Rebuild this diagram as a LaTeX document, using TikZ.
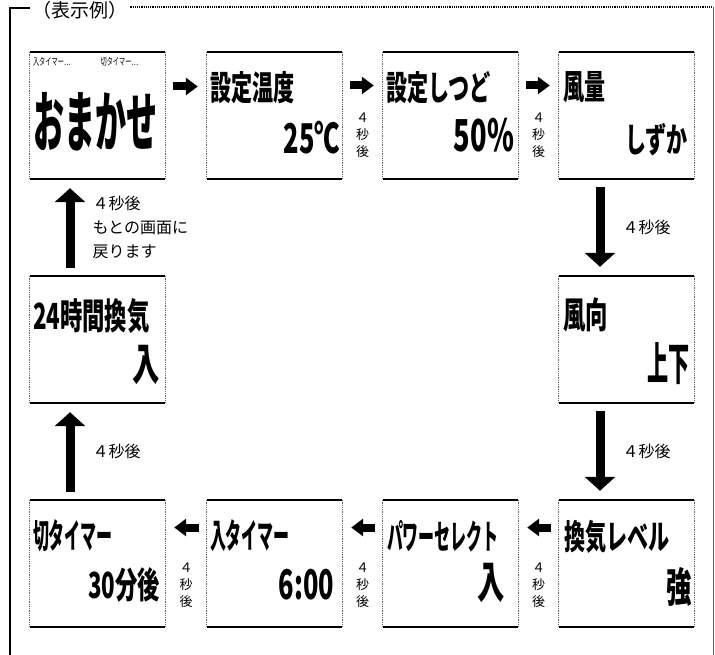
\documentclass[tikz,border=0pt]{standalone}
\usepackage{fontspec}
\usetikzlibrary{arrows.meta,positioning}
\newfontfamily\jp{Noto Sans CJK JP}
\newfontfamily\jpn[FakeStretch=0.62]{Noto Sans CJK JP}
\newfontfamily\jpx[FakeStretch=0.47]{Noto Sans CJK JP}
\newcommand\fsz[1]{\fontsize{#1}{#1}\selectfont}
\begin{document}
\begin{tikzpicture}[
    x=1pt,y=-1pt,
    screen/.style={minimum width=135pt,minimum height=127pt,inner sep=0pt},
    scrtitle/.style={anchor=north west,inner sep=0pt,font=\jpn\bfseries\fsz{34}},
    scrval/.style={anchor=south east,inner sep=0pt,font=\jpn\bfseries\fsz{41}},
    note/.style={inner sep=0pt,font=\jp\fontsize{16}{24}\selectfont,align=left},
    vnote/.style={inner sep=0pt,font=\jp\fontsize{13}{17}\selectfont,align=center},
    harr/.style={line width=8pt,shorten <=8pt,shorten >=9pt,-{Triangle[length=12pt,width=17pt]}},
    varr/.style={line width=9pt,shorten <=8pt,shorten >=9pt,-{Triangle[length=14pt,width=30pt]}},
    rim/.style={line width=2.5pt},
    scrside/.style={densely dotted,line width=0.8pt,black!60}
]
\useasboundingbox (0,0) rectangle (715,655);

% frame and caption
\node[anchor=west,inner sep=0pt,font=\jp\fsz{19}] (caption) at (32,10.5) {（表示例）};
\draw[line width=2pt] (10,655) -- (10,8) -- ([xshift=-2pt]caption.west|-0,8);
\draw[densely dotted,line width=1.2pt] ([xshift=3pt]caption.east|-0,7) -- (713,7);
\draw[black!60,line width=0.8pt] (713,7) -- (713,655);

% screens
\node[screen] (auto) at (97.5,115.5) {};
\node[screen] (temp) at (274.5,115.5) {};
\node[screen] (humid) at (450.5,115.5) {};
\node[screen] (fan) at (626.5,115.5) {};
\node[screen] (vent24) at (97.5,339.5) {};
\node[screen] (dir) at (626.5,339.5) {};
\node[screen] (offtimer) at (97.5,563.5) {};
\node[screen] (ontimer) at (274.5,563.5) {};
\node[screen] (power) at (450.5,563.5) {};
\node[screen] (vent) at (626.5,563.5) {};

\foreach \b in {auto,temp,humid,fan,vent24,dir,offtimer,ontimer,power,vent}{
  \draw[rim] (\b.north west) -- (\b.north east);
  \draw[rim] (\b.south west) -- (\b.south east);
  \draw[scrside] (\b.north west) -- (\b.south west);
  \draw[scrside] (\b.north east) -- (\b.south east);
}

% screen texts
\node[anchor=west,inner sep=0pt,font=\jpn\fsz{10}] (autohead) at ([shift={(3pt,-10pt)}]auto.north west) {入タイマー…\hspace{30pt}切タイマー…};
\node[anchor=west,inner sep=0pt,font=\jpx\bfseries\fsz{66}] (autoname) at ([shift={(3pt,-6pt)}]auto.west) {おまかせ};

\node[scrtitle] (tempname) at ([shift={(3pt,-19pt)}]temp.north west) {設定温度};
\node[scrval] (tempval) at ([shift={(-2pt,25pt)}]temp.south east) {25℃};

\node[scrtitle] (humidname) at ([shift={(3pt,-19pt)}]humid.north west) {設定しつど};
\node[scrval,font=\jpn\bfseries\fsz{44}] (humidval) at ([shift={(-4pt,27pt)}]humid.south east) {50\%};

\node[scrtitle] (fanname) at ([shift={(4pt,-19pt)}]fan.north west) {風量};
\node[scrval,font=\jpn\bfseries\fsz{34}] (fanval) at ([shift={(-6pt,23pt)}]fan.south east) {しずか};

\node[scrtitle,font=\jpn\bfseries\fsz{36}] (dirname) at ([shift={(4pt,-22pt)}]dir.north west) {風向};
\node[scrval,font=\jpx\bfseries\fsz{45}] (dirval) at ([shift={(-4pt,18pt)}]dir.south east) {上下};

\node[scrtitle,font=\jpn\bfseries\fsz{36}] (vent24name) at ([shift={(3pt,-23pt)}]vent24.north west) {24時間換気};
\node[scrval,font=\jpn\bfseries\fsz{44}] (vent24val) at ([shift={(-5pt,18pt)}]vent24.south east) {入};

\node[scrtitle,font=\jpx\bfseries\fsz{34}] (offname) at ([shift={(3pt,-20pt)}]offtimer.north west) {切タイマー};
\node[scrval,font=\jpn\bfseries\fsz{36}] (offval) at ([shift={(-5pt,25pt)}]offtimer.south east) {30分後};

\node[scrtitle,font=\jpx\bfseries\fsz{34}] (onname) at ([shift={(3pt,-20pt)}]ontimer.north west) {入タイマー};
\node[scrval] (onval) at ([shift={(-8pt,27pt)}]ontimer.south east) {6:00};

\node[scrtitle,font=\jpx\bfseries\fsz{34}] (powername) at ([shift={(4pt,-20pt)}]power.north west) {パワーセレクト};
\node[scrval,font=\jpn\bfseries\fsz{44}] (powerval) at ([shift={(-13pt,24pt)}]power.south east) {入};

\node[scrtitle] (ventname) at ([shift={(5pt,-20pt)}]vent.north west) {換気レベル};
\node[scrval] (ventval) at ([shift={(-2pt,20pt)}]vent.south east) {強};

% top row
\draw[harr] ([yshift=29pt]auto.east) -- ([yshift=29pt]temp.west);
\draw[harr] ([yshift=30pt]temp.east) -- ([yshift=30pt]humid.west)
  node[vnote,midway,below=23pt] (wait2) {４\\秒\\後};
\draw[harr] ([yshift=30pt]humid.east) -- ([yshift=30pt]fan.west)
  node[vnote,midway,below=23pt] (wait3) {４\\秒\\後};

% right column
\draw[varr] ([xshift=-26.5pt]fan.south) -- ([xshift=-26.5pt]dir.north)
  node[note,midway,right=18pt] (wait4) {４秒後};
\draw[varr] ([xshift=-26.5pt]dir.south) -- ([xshift=-26.5pt]vent.north)
  node[note,midway,right=18pt] (wait5) {４秒後};

% bottom row
\draw[harr] ([yshift=36pt]vent.west) -- ([yshift=36pt]power.east)
  node[vnote,midway,below=31pt] (wait6) {４\\秒\\後};
\draw[harr] ([yshift=36pt]power.west) -- ([yshift=36pt]ontimer.east)
  node[vnote,midway,below=31pt] (wait7) {４\\秒\\後};
\draw[harr] ([yshift=36pt]ontimer.west) -- ([yshift=36pt]offtimer.east)
  node[vnote,midway,below=31pt] (wait8) {４\\秒\\後};

% left column
\draw[varr] ([xshift=-27.5pt]offtimer.north) -- ([xshift=-27.5pt]vent24.south)
  node[note,midway,right=18pt] (wait9) {４秒後};
\draw[varr] ([xshift=-27.5pt]vent24.north) -- ([xshift=-27.5pt]auto.south)
  node[note,midway,right=18pt] (back) {４秒後\\もとの画面に\\戻ります};
\end{tikzpicture}
\end{document}
